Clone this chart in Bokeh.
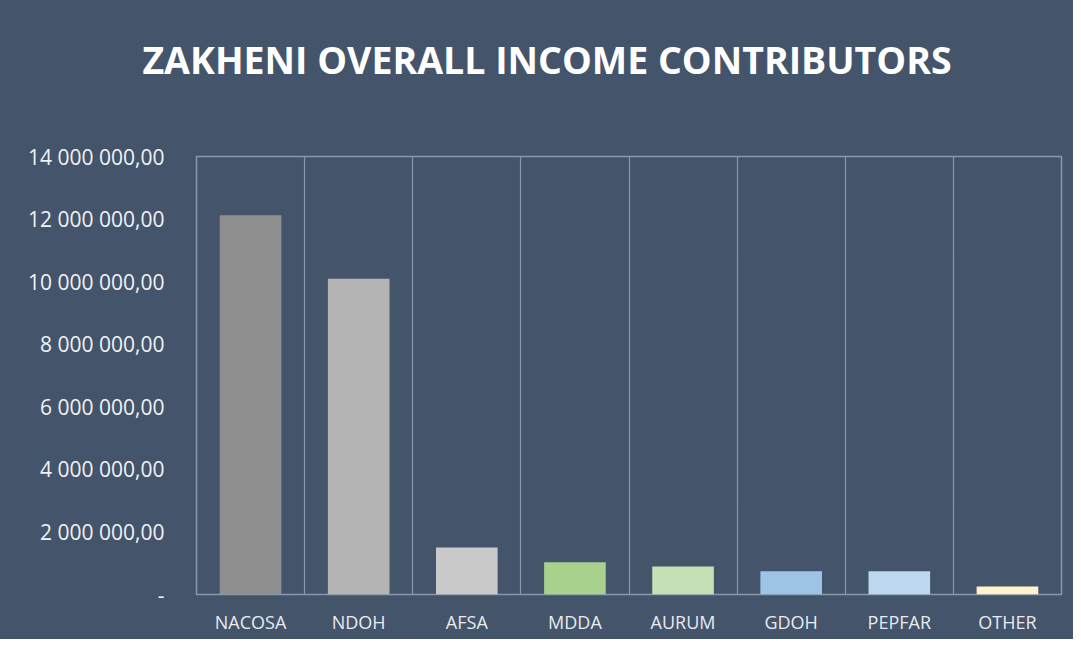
from bokeh.plotting import figure
from bokeh.models import FixedTicker, ColumnDataSource, Range1d, Div
from bokeh.layouts import column
from bokeh.embed import file_html
from bokeh.resources import INLINE

categories = ["NACOSA", "NDOH", "AFSA", "MDDA", "AURUM", "GDOH", "PEPFAR", "OTHER"]
values = [12120000, 10090000, 1500000, 1030000, 895000, 745000, 745000, 256000]
colors = ["#8f8f8f", "#b4b4b4", "#c9c9c9", "#a9d18e", "#c5e0b4", "#9dc3e6", "#bdd7ee", "#fff2cc"]
y_ticks = [0, 2000000, 4000000, 6000000, 8000000, 10000000, 12000000, 14000000]
y_labels = ["-", "2 000 000,00", "4 000 000,00", "6 000 000,00", "8 000 000,00",
            "10 000 000,00", "12 000 000,00", "14 000 000,00"]
title_text = "ZAKHENI OVERALL INCOME CONTRIBUTORS"

BG = "#44546a"
LINE = "#8a98ab"

W, H = 1073, 640
TITLE_H = 120
N = len(categories)

xs = [i + 0.5 for i in range(N)]
src = ColumnDataSource(dict(x=xs, top=values, color=colors, cat=categories))

header = Div(text=title_text, width=W, height=TITLE_H,
             styles={"background-color": BG, "color": "#ffffff",
                     "font-family": "Open Sans", "font-weight": "bold",
                     "font-size": "37.5px", "text-align": "center",
                     "line-height": "120px", "text-indent": "21px",
                     "margin": "0", "padding": "0", "white-space": "nowrap"})

p = figure(width=W, height=H - TITLE_H, output_backend="svg", toolbar_location=None,
           x_range=Range1d(0, N), y_range=Range1d(0, 14000000),
           min_border_left=196, min_border_right=12, min_border_top=157 - TITLE_H,
           min_border_bottom=45)
p.styles = {"background-color": BG, "margin-top": "-1px"}

p.background_fill_color = BG
p.border_fill_color = BG
p.outline_line_color = LINE
p.outline_line_width = 1.5

p.vbar(x="x", top="top", width=0.57, color="color", source=src, line_color=None)

p.xaxis.ticker = FixedTicker(ticks=xs)
p.xaxis.major_label_overrides = {x: c for x, c in zip(xs, categories)}
p.xaxis.major_label_text_font = "Open Sans"
p.xaxis.major_label_text_font_size = "18px"
p.xaxis.major_label_text_color = "#e8ebf0"
p.xaxis.major_label_standoff = 9
p.xaxis.axis_line_color = None
p.xaxis.major_tick_line_color = None
p.xaxis.minor_tick_line_color = None

p.yaxis.ticker = FixedTicker(ticks=y_ticks)
p.yaxis.major_label_overrides = {v: l for v, l in zip(y_ticks, y_labels)}
p.yaxis.major_label_text_font = "Open Sans"
p.yaxis.major_label_text_font_size = "21px"
p.yaxis.major_label_text_color = "#f0f2f5"
p.yaxis.major_label_standoff = 26
p.yaxis.axis_line_color = None
p.yaxis.major_tick_line_color = None
p.yaxis.minor_tick_line_color = None

p.xgrid.ticker = FixedTicker(ticks=list(range(1, N)))
p.xgrid.grid_line_color = LINE
p.xgrid.grid_line_width = 1.2
p.ygrid.grid_line_color = None

layout = column(header, p, spacing=0, styles={"background-color": BG})

open("out.html", "w").write(file_html(layout, INLINE))
